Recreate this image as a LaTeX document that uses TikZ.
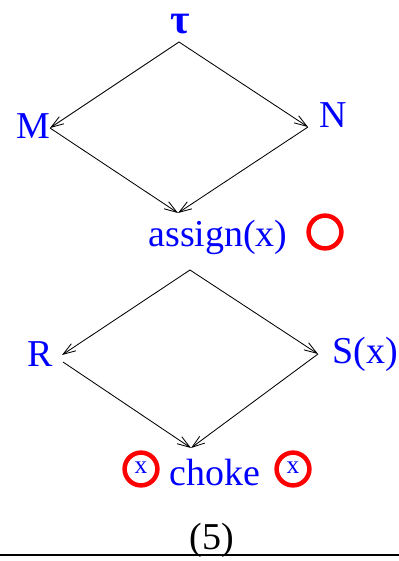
\documentclass[tikz,border=0pt]{standalone}
\usepackage{fontspec}
\setmainfont{Liberation Serif}
\usetikzlibrary{arrows.meta}
\definecolor{cLabel}{RGB}{0,0,255}
\definecolor{cRing}{RGB}{255,0,0}

\begin{document}
\begin{tikzpicture}[x=0.025cm, y=-0.025cm,
        lbl/.style={text=cLabel, inner sep=0pt, font=\fontsize{27}{30}\selectfont},
        arrow/.style={-{Straight Barb[length=9pt, width=6pt]}, line width=0.6pt},
        ring/.style={circle, draw=cRing, line width=3.2pt, minimum size=0.82cm, inner sep=0pt,
        text=cLabel, font=\fontsize{18}{20}\selectfont},
        rule/.style={line width=1.4pt}
    ]
        \useasboundingbox (0,0) rectangle (399,561);

        % --- upper diamond ---
        \node[lbl, font=\fontsize{30}{32}\selectfont\bfseries] (tau) at (180,24) {τ};
        \node[lbl] (m)      at (33,126)  {M};
        \node[lbl] (n)      at (333,115) {N};
        \node[lbl] (assign) at (218,237) {assign(x)};
        \node[ring] (ring1) at (325,232) {};

        \coordinate (tauTip)    at (179,42);
        \coordinate (mTip)      at (50,128);
        \coordinate (nTip)      at (308,127);
        \coordinate (assignTip) at (178,213);

        \draw[arrow] (tauTip) -- (mTip);
        \draw[arrow] (tauTip) -- (nTip);
        \draw[arrow] (mTip)   -- (assignTip);
        \draw[arrow] (nTip)   -- (assignTip);

        % --- lower diamond ---
        \node[lbl] (r)     at (40,354)  {R};
        \node[lbl] (s)     at (365,354) {S(x)};
        \node[lbl] (choke) at (215,473) {choke};
        \node[ring] (ring2) at (141,469) {\raisebox{2pt}{x}};
        \node[ring] (ring3) at (293,469) {\raisebox{2pt}{x}};

        \coordinate (topTip)   at (190,270);
        \coordinate (rTip)     at (62,355);
        \coordinate (rFoot)    at (63,362);
        \coordinate (sTip)     at (318,354);
        \coordinate (chokeTip) at (191,448);

        \draw[arrow] (topTip) -- (rTip);
        \draw[arrow] (topTip) -- (sTip);
        \draw[arrow] (rFoot)  -- (chokeTip);
        \draw[arrow] (sTip)   -- (chokeTip);

        % --- caption ---
        \node[inner sep=0pt, font=\fontsize{27}{30}\selectfont] (caption) at (212,540) {(5)};
        \coordinate (ruleL) at (0,555);
        \coordinate (ruleR) at (399,555);
        \draw[rule] (ruleL) -- (ruleR);

    \end{tikzpicture}
\end{document}
